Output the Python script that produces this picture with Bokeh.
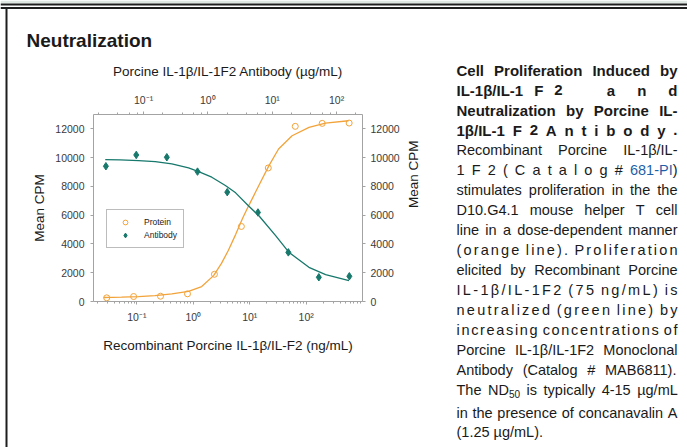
import math
import re
from bokeh.plotting import figure
from bokeh.models import (Range1d, LogScale, LogAxis, LinearAxis, Legend, LegendItem,
                          CustomJSTickFormatter, FixedTicker, ColumnDataSource)
from bokeh.core.properties import value
from bokeh.embed import file_html
from bokeh.resources import INLINE

# ---------------- data ----------------
protein_conc_ng = [0.0293, 0.0878, 0.263, 0.79, 2.37, 7.11, 21.3, 64.0, 192.0, 576.0]
protein_cpm = [256, 346, 367, 534, 1892, 5218, 9286, 12176, 12384, 12405]

antibody_conc_ug = [0.026, 0.077, 0.23, 0.69, 2.0, 6.0, 17.8, 53.0, 158.0]
antibody_cpm = [9404, 10187, 10028, 9030, 7602, 6189, 3416, 1684, 1753]

protein_curve_ng = [0.0257, 0.0537, 0.107, 0.209, 0.417, 0.822, 1.41, 2.29, 3.16, 4.17,
                    5.62, 7.41, 9.55, 14.5, 21.9, 32.4, 56.2, 112.0, 219.0, 562.0]
protein_curve_cpm = [277, 298, 345, 415, 530, 700, 1040, 1800, 2650, 3550,
                     4650, 5750, 6650, 8060, 9446, 10600, 11525, 12107, 12405, 12564]

antibody_curve_ug = [0.0254, 0.0434, 0.0836, 0.152, 0.275, 0.501, 0.717, 1.15, 1.87, 2.70,
                     4.34, 6.21, 11.3, 18.2, 37.2, 67.6, 156.0]
antibody_curve_cpm = [9861, 9841, 9792, 9723, 9563, 9286, 9030, 8642, 8060, 7554,
                      6618, 5960, 4574, 3416, 2377, 1871, 1455]

y_ticks = [0, 2000, 4000, 6000, 8000, 10000, 12000]
series_labels = ["Protein", "Antibody"]

title_text = "Neutralization"
top_axis_label = "Porcine IL-1β/IL-1F2 Antibody (µg/mL)"
bottom_axis_label = "Recombinant Porcine IL-1β/IL-F2 (ng/mL)"
y_axis_label = "Mean CPM"

# paragraph lines: (text, bold, mode); mode: "j" justified, "ls" letter-spaced justified,
# "l" left; {..} = link colour, [..] = subscript
para_lines = [
    ("Cell Proliferation Induced by", True, "j"),
    ("IL-1β/IL-1 F 2    a  n  d", True, "j"),
    ("Neutralization by Porcine IL-", True, "j"),
    ("1β/IL-1 F 2 A n t i b o d y .", True, "j"),
    ("Recombinant Porcine IL-1β/IL-", False, "j"),
    ("1 F 2 ( C a t a l o g # {681-PI})", False, "j"),
    ("stimulates proliferation in the the", False, "j"),
    ("D10.G4.1 mouse helper T cell", False, "j"),
    ("line in a dose-dependent manner", False, "j"),
    ("(orange line). Proliferation", False, "ls"),
    ("elicited by Recombinant Porcine", False, "j"),
    ("IL-1β/IL-1F2 (75 ng/mL) is", False, "ls"),
    ("neutralized (green line) by", False, "ls"),
    ("increasing concentrations of", False, "ls"),
    ("Porcine IL-1β/IL-1F2 Monoclonal", False, "j"),
    ("Antibody (Catalog # MAB6811).", False, "j"),
    ("The ND[50] is typically 4-15 µg/mL", False, "j"),
    ("in the presence of concanavalin A", False, "j"),
    ("(1.25 µg/mL).", False, "l"),
]

# ---------------- styling / layout ----------------
W, H = 687, 447
FL, FR, FT, FB = 93, 362, 114, 301
ORANGE = "#f2a33a"
TEAL = "#17786c"
AXIS_GREY = "#a3a3a3"
FONT = "Liberation Sans"
ABS = {"position": "absolute", "left": "0px", "top": "0px"}

# ---- page layer (title, paragraph, frame decoration), pixel coordinates ----
pg = figure(width=W, height=H, x_range=Range1d(0, W), y_range=Range1d(H, 0),
            output_backend="svg", toolbar_location=None, min_border=0,
            x_axis_location=None, y_axis_location=None)
pg.styles = ABS
pg.grid.visible = False
pg.outline_line_color = None
pg.background_fill_color = "white"
pg.border_fill_color = "white"

deco = [(0, W, 0, 3, "#dfe7e3"), (0, W, 3, 5, "#1e1e1e"),
        (0, W, 6.5, 8.5, "#1e1e1e"), (5, 7, 8.5, H, "#1e1e1e")]
pg.quad(left=[d[0] for d in deco], right=[d[1] for d in deco],
        top=[d[2] for d in deco], bottom=[d[3] for d in deco],
        fill_color=[d[4] for d in deco], line_color=None)

REG = {" ": 278, "#": 556, "(": 333, ")": 333, "-": 333, ".": 278, "/": 278, "β": 575, "µ": 556,
       "A": 667, "B": 667, "C": 722, "D": 722, "E": 667, "F": 611, "G": 778, "H": 722, "I": 278,
       "J": 500, "K": 667, "L": 556, "M": 833, "N": 722, "O": 778, "P": 667, "Q": 778, "R": 722,
       "S": 667, "T": 611, "U": 722, "V": 667, "W": 944, "X": 667, "Y": 667, "Z": 611,
       "a": 556, "b": 556, "c": 500, "d": 556, "e": 556, "f": 278, "g": 556, "h": 556, "i": 222,
       "j": 222, "k": 500, "l": 222, "m": 833, "n": 556, "o": 556, "p": 556, "q": 556, "r": 333,
       "s": 500, "t": 278, "u": 556, "v": 500, "w": 722, "x": 500, "y": 500, "z": 500}
BOLD = {" ": 278, "#": 556, "(": 333, ")": 333, "-": 333, ".": 278, "/": 278, "β": 611, "µ": 611,
        "A": 722, "B": 722, "C": 722, "D": 722, "E": 667, "F": 611, "G": 778, "H": 722, "I": 278,
        "J": 556, "K": 722, "L": 611, "M": 833, "N": 722, "O": 778, "P": 667, "Q": 778, "R": 722,
        "S": 667, "T": 611, "U": 722, "V": 667, "W": 944, "X": 667, "Y": 667, "Z": 611,
        "a": 556, "b": 611, "c": 556, "d": 611, "e": 556, "f": 333, "g": 611, "h": 611, "i": 278,
        "j": 278, "k": 556, "l": 278, "m": 889, "n": 611, "o": 611, "p": 611, "q": 611, "r": 389,
        "s": 556, "t": 333, "u": 611, "v": 556, "w": 778, "x": 556, "y": 556, "z": 500}

FS_REG = 14.5
FS_BOLD = 15
SUB_FS = 10
X0, X1 = 456, 677
WORD_W = 3  # word gap weight in letter-spaced lines


def text_w(s, size, bold):
    tab = BOLD if bold else REG
    return sum(tab.get(c, 556) for c in s) * size / 1000.0


def segments(token):
    out = []
    for m in re.finditer(r"\{([^}]*)\}|\[([^\]]*)\]|([^{\[]+)", token):
        if m.group(1) is not None:
            out.append((m.group(1), "link"))
        elif m.group(2) is not None:
            out.append((m.group(2), "sub"))
        else:
            out.append((m.group(3), "plain"))
    return out


groups = {}


def put(x, y, s, bold, size, color):
    g = groups.setdefault((bold, size, color), {"x": [], "y": [], "text": []})
    g["x"].append(x)
    g["y"].append(y)
    g["text"].append(s)


put(26, 40, title_text, True, 19, "#1a1a1a")

line_y = [69.5 + 20 * i for i in range(17)] + [412.5, 431.5]
for (txt, bold, mode), yc in zip(para_lines, line_y):
    fs = FS_BOLD if bold else FS_REG
    toks, gaps = [], []
    if mode == "ls":
        words = txt.split(" ")
        for wi, word in enumerate(words):
            for ci, ch in enumerate(word):
                toks.append(([(ch, "plain")], text_w(ch, fs, bold)))
                if ci < len(word) - 1:
                    gaps.append(1)
            if wi < len(words) - 1:
                gaps.append(WORD_W)
    else:
        for part in re.findall(r"\S+|\s+", txt):
            if part.isspace():
                gaps.append(len(part))
            else:
                segs = segments(part)
                wsum = sum(text_w(s, SUB_FS if k == "sub" else fs, bold) for s, k in segs)
                toks.append((segs, wsum))
    content = sum(t[1] for t in toks)
    unit = (X1 - X0 - content) / sum(gaps) if (mode != "l" and gaps) else text_w(" ", fs, bold)
    x = X0
    for i, (segs, wsum) in enumerate(toks):
        sx = x
        for s, k in segs:
            size = SUB_FS if k == "sub" else fs
            put(sx, yc + (4 if k == "sub" else 0), s, bold, size,
                "#1f5fa8" if k == "link" else "#1a1a1a")
            sx += text_w(s, size, bold)
        x += wsum
        if i < len(gaps):
            x += unit * gaps[i]

for (bold, size, color), g in groups.items():
    pg.text(x="x", y="y", text="text", source=ColumnDataSource(g),
            text_font=value(FONT), text_font_size=value(f"{size}px"),
            text_font_style=value("bold" if bold else "normal"),
            text_color=color, text_baseline="middle", text_align="left")

# ---- chart layer ----
p = figure(width=W, height=H, x_axis_type="log",
           x_range=Range1d(0.0171, 993), y_range=Range1d(0, 13000),
           output_backend="svg", toolbar_location=None,
           min_border_left=FL, min_border_right=W - FR,
           min_border_top=FT, min_border_bottom=H - FB)
p.styles = ABS
p.extra_x_ranges = {"ab": Range1d(0.01668, 253)}
p.extra_x_scales = {"ab": LogScale()}
p.grid.visible = False
p.outline_line_color = None
p.background_fill_color = None
p.border_fill_color = None

sup_js = """
const e = Math.round(Math.log10(tick));
const m = {"-": "\u207b", "0": "\u2070", "1": "\u00b9", "2": "\u00b2", "3": "\u00b3"};
let s = "";
for (const c of String(e)) { s += m[c]; }
return "10" + s;
"""

xb = p.xaxis[0]
xb.axis_label = bottom_axis_label
xt = LogAxis(x_range_name="ab", axis_label=top_axis_label)
p.add_layout(xt, "above")
yl = p.yaxis[0]
yl.axis_label = y_axis_label
yr = LinearAxis(axis_label=y_axis_label)
p.add_layout(yr, "right")
yr.axis_label_orientation = math.pi / 2

for ax in (xb, xt):
    ax.formatter = CustomJSTickFormatter(code=sup_js)
    ax.minor_tick_line_color = AXIS_GREY
    ax.minor_tick_out = 2
    ax.minor_tick_in = 0
for ax in (yl, yr):
    ax.ticker = FixedTicker(ticks=y_ticks)
    ax.minor_tick_line_color = None

for ax in (xb, xt, yl, yr):
    ax.axis_line_color = AXIS_GREY
    ax.major_tick_line_color = AXIS_GREY
    ax.major_tick_out = 3
    ax.major_tick_in = 0
    ax.major_label_text_font = FONT
    ax.major_label_text_font_size = "10.5px"
    ax.major_label_text_color = "#3a3a3a"
    ax.axis_label_text_font = FONT
    ax.axis_label_text_font_size = "13.5px"
    ax.axis_label_text_font_style = "normal"
    ax.axis_label_text_color = "#1a1a1a"

xb.major_label_standoff = 6
xb.axis_label_standoff = 12
xt.major_label_standoff = 6
xt.axis_label_standoff = 12
yl.major_label_standoff = 6
yl.axis_label_standoff = 5
yr.major_label_standoff = 5
yr.axis_label_standoff = 11

p.line(protein_curve_ng, protein_curve_cpm, line_color=ORANGE, line_width=1.3)
p.line(antibody_curve_ug, antibody_curve_cpm, line_color=TEAL, line_width=1.3, x_range_name="ab")
r_p = p.scatter(protein_conc_ng, protein_cpm, marker="circle", size=6,
                fill_color=None, line_color=ORANGE, line_width=1)
r_a = p.scatter(antibody_conc_ug, antibody_cpm, marker="diamond", size=7.5,
                fill_color=TEAL, line_color=TEAL, x_range_name="ab")

legend = Legend(items=[LegendItem(label=series_labels[0], renderers=[r_p]),
                       LegendItem(label=series_labels[1], renderers=[r_a])],
                location=(13, 53), orientation="vertical",
                border_line_color="#7a7a7a", border_line_width=1,
                background_fill_color="white", background_fill_alpha=1,
                label_text_font=FONT, label_text_font_size="8.5px",
                label_text_color="#222222",
                glyph_width=24, glyph_height=12, label_height=12,
                label_standoff=7, spacing=1, padding=6, margin=0)
p.add_layout(legend)

open("out.html", "w").write(file_html([pg, p], INLINE))
